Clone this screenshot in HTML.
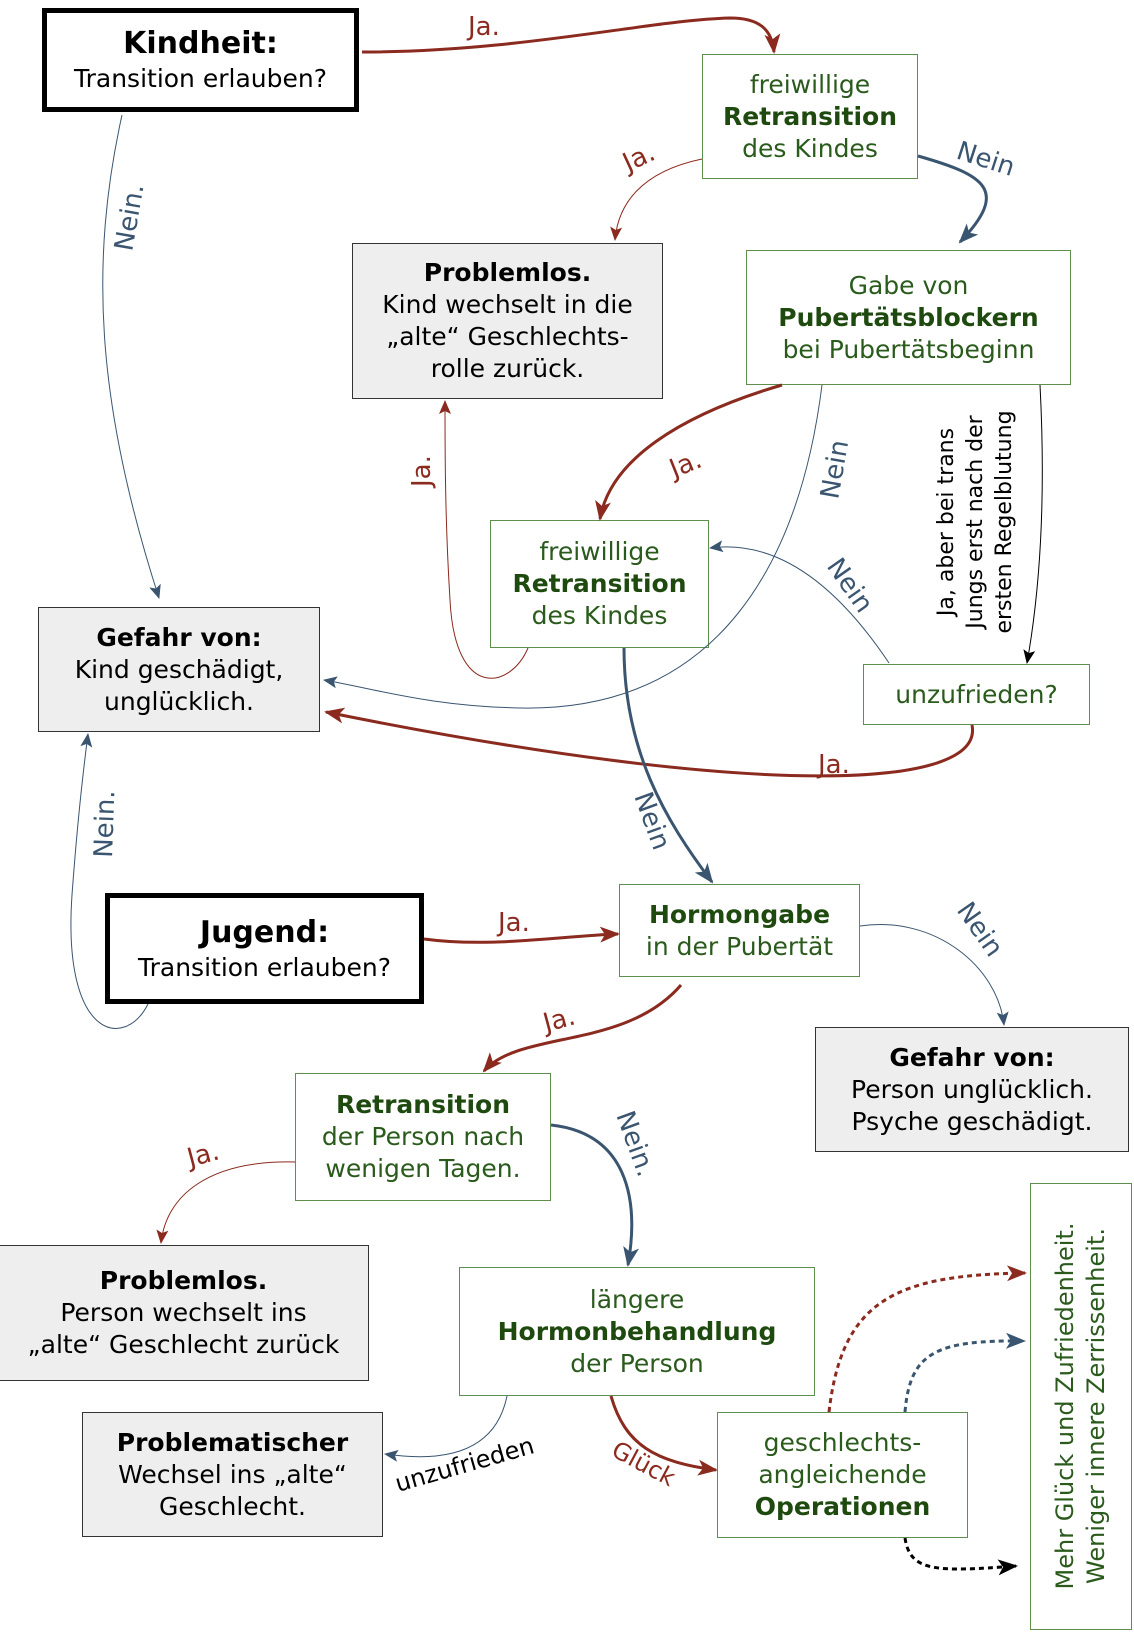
<!DOCTYPE html>
<html><head><meta charset="utf-8"><style>
html,body{margin:0;padding:0;background:#fff}
body{width:1134px;height:1633px;position:relative;overflow:hidden;font-family:"DejaVu Sans","Liberation Sans",sans-serif}
.b{position:absolute;box-sizing:border-box;display:flex;flex-direction:column;justify-content:center;align-items:center;text-align:center;font-size:25px;line-height:32px;white-space:nowrap}
.g{border:1.5px solid #5f8f4e;color:#2a5a1c;background:#fff}
.g b{color:#1f4a0f}
.q{border:1.5px solid #333;background:#eeeeee;color:#000}
.k{border:5px solid #000;background:#fff;color:#000}
svg{position:absolute;left:0;top:0}
</style></head><body>
<div class="b k" style="left:42px;top:8px;width:317px;height:104px"><b style="font-size:30px;line-height:38px">Kindheit:</b>Transition erlauben?</div>
<div class="b g" style="left:702px;top:54px;width:216px;height:125px">freiwillige<b>Retransition</b>des Kindes</div>
<div class="b q" style="left:352px;top:243px;width:311px;height:156px"><b>Problemlos.</b>Kind wechselt in die<br>„alte“ Geschlechts-<br>rolle zurück.</div>
<div class="b g" style="left:746px;top:250px;width:325px;height:135px">Gabe von<b>Pubertätsblockern</b>bei Pubertätsbeginn</div>
<div class="b g" style="left:490px;top:520px;width:219px;height:128px">freiwillige<b>Retransition</b>des Kindes</div>
<div class="b q" style="left:38px;top:607px;width:282px;height:125px"><b>Gefahr von:</b>Kind geschädigt,<br>unglücklich.</div>
<div class="b g" style="left:863px;top:664px;width:227px;height:61px">unzufrieden?</div>
<div class="b k" style="left:105px;top:893px;width:319px;height:111px"><b style="font-size:30px;line-height:38px">Jugend:</b>Transition erlauben?</div>
<div class="b g" style="left:619px;top:884px;width:241px;height:93px"><b>Hormongabe</b>in der Pubertät</div>
<div class="b q" style="left:815px;top:1027px;width:314px;height:125px"><b>Gefahr von:</b>Person unglücklich.<br>Psyche geschädigt.</div>
<div class="b g" style="left:295px;top:1073px;width:256px;height:128px"><b>Retransition</b>der Person nach<br>wenigen Tagen.</div>
<div class="b q" style="left:-2px;top:1245px;width:371px;height:136px"><b>Problemlos.</b>Person wechselt ins<br>„alte“ Geschlecht zurück</div>
<div class="b g" style="left:459px;top:1267px;width:356px;height:129px">längere<b>Hormonbehandlung</b>der Person</div>
<div class="b q" style="left:82px;top:1412px;width:301px;height:125px"><b>Problematischer</b>Wechsel ins „alte“<br>Geschlecht.</div>
<div class="b g" style="left:717px;top:1412px;width:251px;height:126px">geschlechts-<br>angleichende<b>Operationen</b></div>
<div class="b g" style="left:1030px;top:1183px;width:102px;height:447px"></div>
<svg width="1134" height="1633" viewBox="0 0 1134 1633" font-family="DejaVu Sans, Liberation Sans, sans-serif">
<defs>
<marker id="r" markerUnits="userSpaceOnUse" markerWidth="20" markerHeight="16" refX="18" refY="8" orient="auto"><path d="M0,0 L20,8 L0,16 L5,8z" fill="#8b2a1e"/></marker>
<marker id="bl" markerUnits="userSpaceOnUse" markerWidth="20" markerHeight="16" refX="18" refY="8" orient="auto"><path d="M0,0 L20,8 L0,16 L5,8z" fill="#3a5570"/></marker>
<marker id="k" markerUnits="userSpaceOnUse" markerWidth="20" markerHeight="16" refX="18" refY="8" orient="auto"><path d="M0,0 L20,8 L0,16 L5,8z" fill="#000"/></marker>
<marker id="rs" markerUnits="userSpaceOnUse" markerWidth="14" markerHeight="12" refX="13" refY="6" orient="auto"><path d="M0,0 L14,6 L0,12 L3,6z" fill="#8b2a1e"/></marker>
<marker id="bs" markerUnits="userSpaceOnUse" markerWidth="14" markerHeight="12" refX="13" refY="6" orient="auto"><path d="M0,0 L14,6 L0,12 L3,6z" fill="#3a5570"/></marker>
<marker id="ks" markerUnits="userSpaceOnUse" markerWidth="14" markerHeight="12" refX="13" refY="6" orient="auto"><path d="M0,0 L14,6 L0,12 L3,6z" fill="#000"/></marker>
</defs>
<g fill="none">
<path d="M362,52 C520,52 650,20 730,18 C760,18 772,30 774,52" stroke="#8b2a1e" stroke-width="3" marker-end="url(#r)"/>
<path d="M702,159 C640,172 618,205 615,240" stroke="#8b2a1e" stroke-width="1" marker-end="url(#rs)"/>
<path d="M918,156 C985,175 1010,190 960,242" stroke="#3a5570" stroke-width="3" marker-end="url(#bl)"/>
<path d="M122,115 C90,260 95,400 159,598" stroke="#3a5570" stroke-width="1" marker-end="url(#bs)"/>
<path d="M528,648 C510,690 455,700 450,600 C445,520 445,450 445,401" stroke="#8b2a1e" stroke-width="1" marker-end="url(#rs)"/>
<path d="M782,385 C680,415 610,460 600,519" stroke="#8b2a1e" stroke-width="3" marker-end="url(#r)"/>
<path d="M822,385 C800,560 720,712 520,708 C430,706 380,690 324,680" stroke="#3a5570" stroke-width="1" marker-end="url(#bs)"/>
<path d="M1040,385 C1046,500 1040,590 1027,663" stroke="#000" stroke-width="1" marker-end="url(#ks)"/>
<path d="M889,663 C830,575 770,540 710,548" stroke="#3a5570" stroke-width="1" marker-end="url(#bs)"/>
<path d="M972,725 C985,790 760,800 326,712" stroke="#8b2a1e" stroke-width="3" marker-end="url(#r)"/>
<path d="M624,648 C624,750 665,820 712,882" stroke="#3a5570" stroke-width="3" marker-end="url(#bl)"/>
<path d="M148,1004 C125,1050 62,1040 72,895 C76,840 82,780 88,734" stroke="#3a5570" stroke-width="1" marker-end="url(#bs)"/>
<path d="M424,939 C490,948 560,936 618,934" stroke="#8b2a1e" stroke-width="3" marker-end="url(#r)"/>
<path d="M681,985 C625,1050 520,1030 484,1071" stroke="#8b2a1e" stroke-width="3" marker-end="url(#r)"/>
<path d="M860,926 C935,915 998,967 1004,1025" stroke="#3a5570" stroke-width="1" marker-end="url(#bs)"/>
<path d="M295,1162 C208,1160 166,1196 161,1243" stroke="#8b2a1e" stroke-width="1" marker-end="url(#rs)"/>
<path d="M551,1125 C625,1133 640,1196 628,1265" stroke="#3a5570" stroke-width="3" marker-end="url(#bl)"/>
<path d="M507,1396 C495,1455 440,1462 385,1454" stroke="#3a5570" stroke-width="1" marker-end="url(#bs)"/>
<path d="M611,1396 C625,1445 655,1462 716,1470" stroke="#8b2a1e" stroke-width="3" marker-end="url(#r)"/>
<path d="M829,1412 C842,1300 895,1275 1025,1273" stroke="#8b2a1e" stroke-width="3" stroke-dasharray="5,4" marker-end="url(#r)"/>
<path d="M905,1412 C910,1352 936,1340 1024,1341" stroke="#3a5570" stroke-width="3" stroke-dasharray="5,4" marker-end="url(#bl)"/>
<path d="M905,1538 C910,1572 936,1572 1016,1566" stroke="#000" stroke-width="3" stroke-dasharray="5,4" marker-end="url(#k)"/>
</g>
<g font-size="26">
<text x="468" y="35" fill="#8b2a1e">Ja.</text>
<text x="0" y="0" fill="#8b2a1e" transform="translate(628,172) rotate(-25)">Ja.</text>
<text x="0" y="0" fill="#3a5570" transform="translate(955,158) rotate(18)">Nein</text>
<text x="0" y="0" fill="#3a5570" transform="translate(132,252) rotate(-80)">Nein.</text>
<text x="0" y="0" fill="#8b2a1e" transform="translate(430,487) rotate(-90)">Ja.</text>
<text x="0" y="0" fill="#8b2a1e" transform="translate(674,478) rotate(-22)">Ja.</text>
<text x="0" y="0" fill="#3a5570" transform="translate(838,500) rotate(-80)">Nein</text>
<text x="0" y="0" fill="#3a5570" transform="translate(826,566) rotate(55)">Nein</text>
<text x="818" y="773" fill="#8b2a1e">Ja.</text>
<text x="0" y="0" fill="#3a5570" transform="translate(634,796) rotate(70)">Nein</text>
<text x="0" y="0" fill="#3a5570" transform="translate(112,858) rotate(-88)">Nein.</text>
<text x="498" y="931" fill="#8b2a1e">Ja.</text>
<text x="0" y="0" fill="#8b2a1e" transform="translate(546,1032) rotate(-15)">Ja.</text>
<text x="0" y="0" fill="#3a5570" transform="translate(956,910) rotate(55)">Nein</text>
<text x="0" y="0" fill="#8b2a1e" transform="translate(190,1167) rotate(-15)">Ja.</text>
<text x="0" y="0" fill="#3a5570" transform="translate(616,1115) rotate(70)">Nein.</text>
<text x="0" y="0" fill="#000" font-size="24" transform="translate(398,1492) rotate(-16)">unzufrieden</text>
<text x="0" y="0" fill="#8b2a1e" font-size="24" transform="translate(610,1455) rotate(28)">Glück</text>
</g>
<g font-size="22" fill="#000" text-anchor="middle">
<text transform="translate(953,522) rotate(-90)">Ja, aber bei trans</text>
<text transform="translate(982,522) rotate(-90)">Jungs erst nach der</text>
<text transform="translate(1011,522) rotate(-90)">ersten Regelblutung</text>
</g>
<g font-size="24" fill="#2a5a1c" text-anchor="middle">
<text transform="translate(1073,1406) rotate(-90)">Mehr Glück und Zufriedenheit.</text>
<text transform="translate(1104,1406) rotate(-90)">Weniger innere Zerrissenheit.</text>
</g>
</svg>
</body></html>
